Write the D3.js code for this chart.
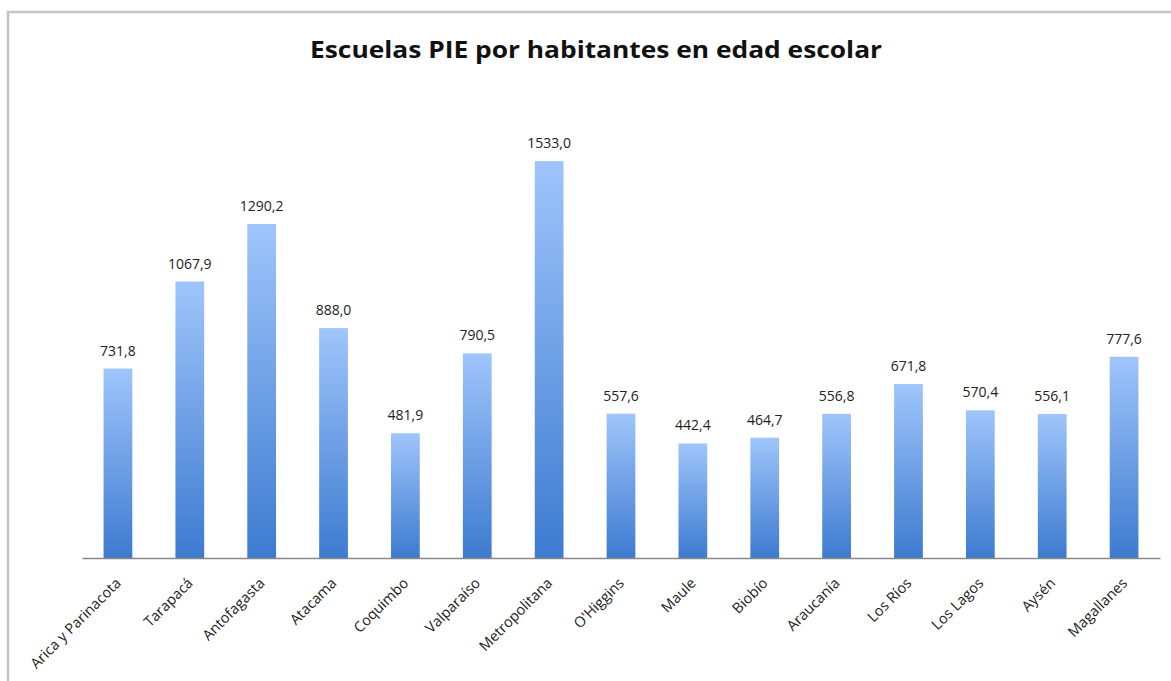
<!DOCTYPE html>
<html><head><meta charset="utf-8">
<script src="https://cdn.jsdelivr.net/npm/d3@7"></script>
<style>body{margin:0;background:#fff;} svg{display:block;}</style>
</head><body>
<svg id="c" width="1171" height="681"></svg>
<script>
const categories = ["Arica y Parinacota","Tarapacá","Antofagasta","Atacama","Coquimbo","Valparaíso","Metropolitana","O'Higgins","Maule","Biobío","Araucanía","Los Ríos","Los Lagos","Aysén","Magallanes"];
const values = [731.8,1067.9,1290.2,888.0,481.9,790.5,1533.0,557.6,442.4,464.7,556.8,671.8,570.4,556.1,777.6];
const title = "Escuelas PIE por habitantes en edad escolar";

const svg = d3.select("#c");
const W = 1171, H = 681;
const m = {left: 82, right: 11, top: 92, bottom: 123};
const font = "'Open Sans', sans-serif";

// chart border
svg.append("path").attr("d", `M8,${H+5} L8,12 L${W+5},12`).attr("fill","none").attr("stroke","#c4c4c4").attr("stroke-width",2.5);

const defs = svg.append("defs");
const g1 = defs.append("linearGradient").attr("id","bg").attr("x1",0).attr("y1",0).attr("x2",0).attr("y2",1);
g1.append("stop").attr("offset","0%").attr("stop-color","#9fc5fb");
g1.append("stop").attr("offset","100%").attr("stop-color","#3d7bd0");

const x = d3.scaleBand().domain(categories).range([m.left, W - m.right]).paddingInner(0.6).paddingOuter(0.3);
const y = d3.scaleLinear().domain([0, 1800]).range([H - m.bottom, m.top]);

svg.append("text").attr("x", 596).attr("y", 58).attr("text-anchor","middle")
  .attr("font-family", font).attr("font-weight","bold").attr("font-size", 24).attr("fill","#111")
  .attr("textLength", 572).attr("lengthAdjust","spacingAndGlyphs").text(title);

svg.selectAll("rect.bar").data(values).join("rect").attr("class","bar")
  .attr("x", (d,i) => x(categories[i])).attr("width", x.bandwidth())
  .attr("y", d => y(d)).attr("height", d => y(0) - y(d))
  .attr("fill","url(#bg)");

svg.selectAll("text.val").data(values).join("text").attr("class","val")
  .attr("x", (d,i) => x(categories[i]) + x.bandwidth()/2).attr("y", d => y(d) - 13)
  .attr("text-anchor","middle").attr("font-family", font).attr("font-size", 14).attr("fill","#222")
  .text(d => d3.format(".1f")(d).replace(".", ","));

const xAxis = svg.append("g").attr("transform", `translate(0,${y(0)})`)
  .call(d3.axisBottom(x).tickSize(0).tickPadding(0));
xAxis.select(".domain").attr("stroke","#888").attr("stroke-width",1.5);
xAxis.selectAll("text").attr("font-family", font).attr("font-size", 14.5).attr("fill","#222")
  .attr("text-anchor","end").attr("dy", 0)
  .attr("transform", "translate(4,26) rotate(-45)");
</script>
</body></html>
